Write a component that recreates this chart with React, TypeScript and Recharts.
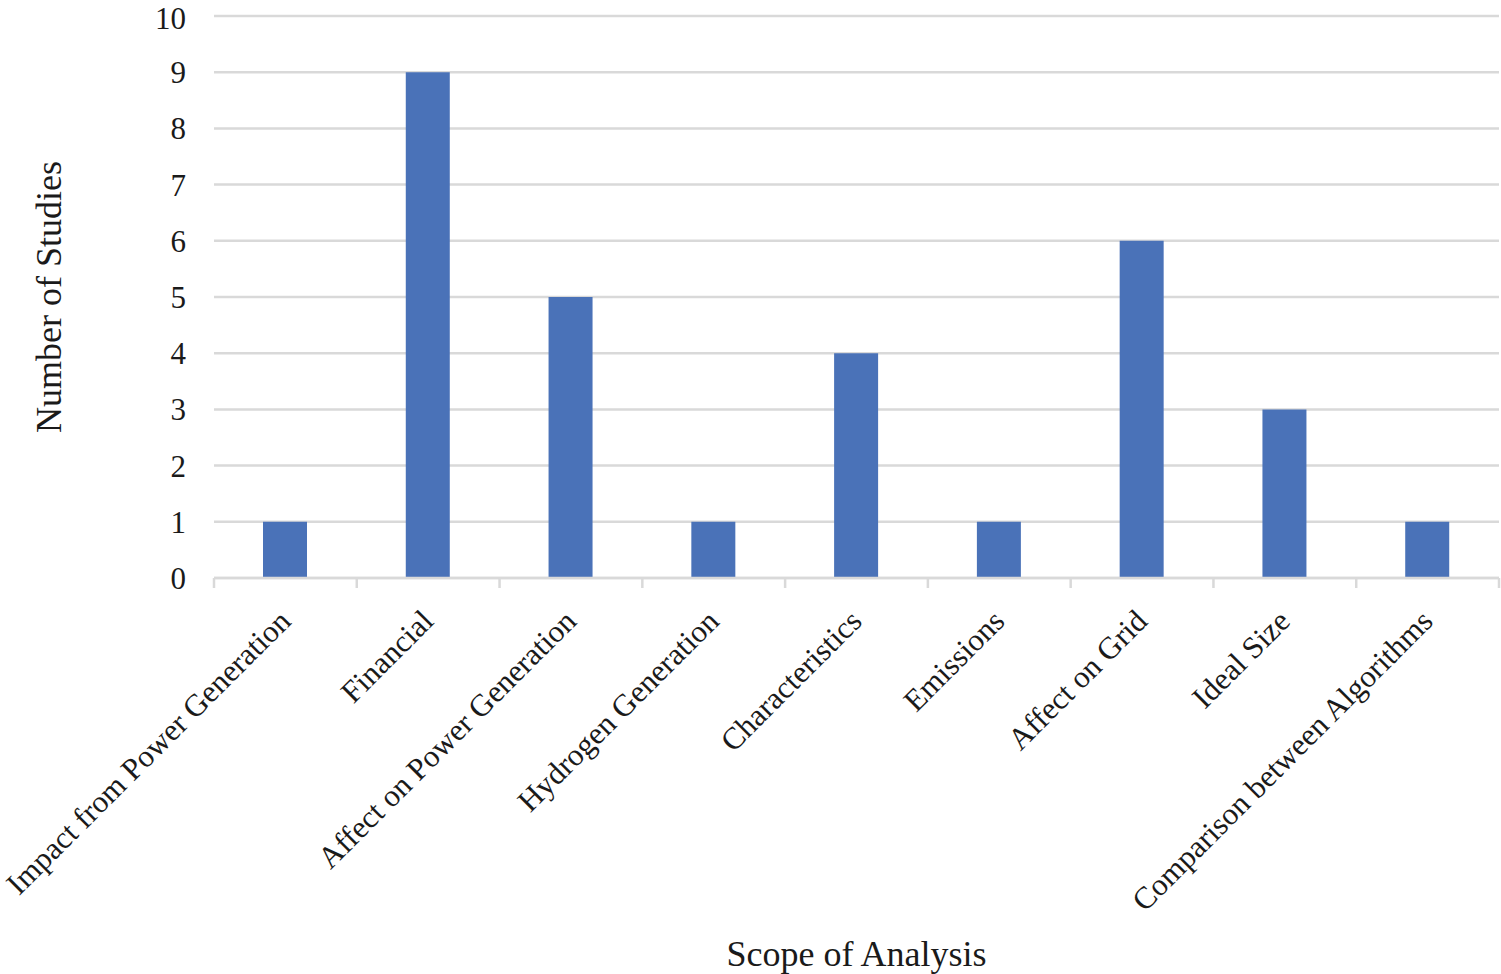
import { BarChart, Bar, XAxis, YAxis, CartesianGrid } from 'recharts';

const categories = [
  'Impact from Power Generation',
  'Financial',
  'Affect on Power Generation',
  'Hydrogen Generation',
  'Characteristics',
  'Emissions',
  'Affect on Grid',
  'Ideal Size',
  'Comparison between Algorithms',
];
const studies = [1, 9, 5, 1, 4, 1, 6, 3, 1];
const yTicks = [0, 1, 2, 3, 4, 5, 6, 7, 8, 9, 10];

const data = categories.map((name, i) => ({ name, studies: studies[i] }));

const FONT = '"Liberation Serif", "Times New Roman", serif';
const GRID = '#d9d9d9';
const INK = '#1a1a1a';

// category label rotated -45deg, plus the boundary tick marks Excel draws between categories
const CategoryTick = (props: any) => {
  const { x, y, payload, width, visibleTicksCount, index } = props;
  const half = width / visibleTicksCount / 2;
  const tx = x + 7;
  const ty = y + 45;
  return (
    <g>
      <line x1={x - half} y1={y} x2={x - half} y2={y + 10} stroke={GRID} strokeWidth={2.5} />
      {index === visibleTicksCount - 1 && (
        <line x1={x + half} y1={y} x2={x + half} y2={y + 10} stroke={GRID} strokeWidth={2.5} />
      )}
      <text
        x={tx}
        y={ty}
        transform={`rotate(-45, ${tx}, ${ty})`}
        textAnchor="end"
        fontFamily={FONT}
        fontSize={31}
        fill={INK}
      >
        {payload.value}
      </text>
    </g>
  );
};

export default function App() {
  return (
    <div style={{ position: 'absolute', left: 0, top: 0, background: '#fff' }}>
      <BarChart
        width={1501}
        height={974}
        data={data}
        margin={{ top: 16, right: 2, left: 0, bottom: 0 }}
      >
        <CartesianGrid vertical={false} stroke={GRID} strokeWidth={2.5} />
        <XAxis
          dataKey="name"
          type="category"
          height={396}
          interval={0}
          axisLine={{ stroke: GRID, strokeWidth: 2.5 }}
          tickLine={false}
          tickSize={0}
          tickMargin={0}
          tick={<CategoryTick />}
          label={{
            value: 'Scope of Analysis',
            position: 'insideBottom',
            offset: 8,
            fontFamily: FONT,
            fontSize: 36,
            fill: INK,
          }}
        />
        <YAxis
          width={214}
          domain={[0, 10]}
          ticks={yTicks}
          axisLine={false}
          tickLine={false}
          tickSize={0}
          tickMargin={28}
          tick={{ fontFamily: FONT, fontSize: 31, fill: INK }}
          label={{
            value: 'Number of Studies',
            angle: -90,
            position: 'center',
            dx: -59,
            fontFamily: FONT,
            fontSize: 36,
            fill: INK,
          }}
        />
        <Bar dataKey="studies" fill="#4a72b8" barSize={44} isAnimationActive={false} />
      </BarChart>
    </div>
  );
}
